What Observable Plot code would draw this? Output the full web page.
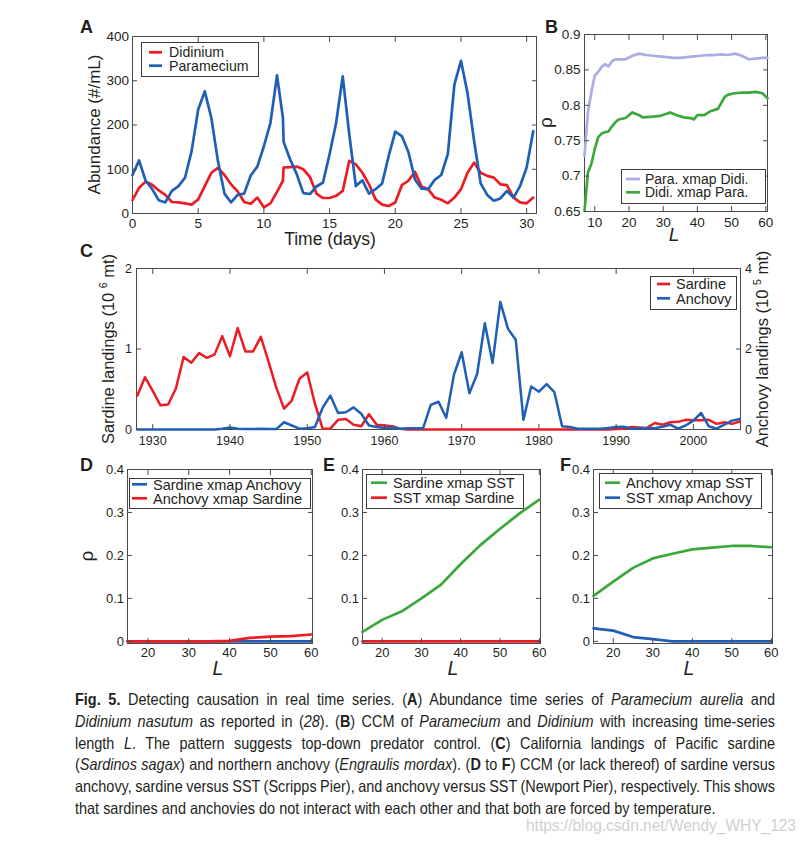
<!DOCTYPE html>
<html><head><meta charset="utf-8">
<script src="https://cdn.jsdelivr.net/npm/d3@7"></script>
<script src="https://cdn.jsdelivr.net/npm/@observablehq/plot@0.6"></script>
<style>
body{margin:0;background:#fff;}
#root{position:relative;width:808px;height:844px;overflow:hidden;background:#fff;font-family:"Liberation Sans",Arial,Helvetica,sans-serif;}
.cap{position:absolute;left:75px;white-space:nowrap;font-size:16.5px;line-height:22px;color:#231f20;transform-origin:0 50%;}
.wm{position:absolute;white-space:nowrap;font-size:16px;line-height:20px;color:#cfcfcf;transform-origin:100% 50%;}
</style></head><body><div id="root"></div>
<script>
// ---------- DATA ----------
// Panel A: time (days) and abundance (#/mL)
const aTime = [0,0.5,1,1.5,2,2.5,3,3.5,4,4.5,5,5.5,6,6.5,7,7.5,8,8.5,9,9.5,10,10.5,11,11.45,11.5,12,12.5,13,13.5,14,14.5,15,15.5,16,16.5,17,17.5,18,18.5,19,19.5,20,20.5,21,21.5,22,22.5,23,23.5,24,24.5,25,25.5,26,26.5,27,27.5,28,28.5,29,29.5,30,30.5];
const paramecium = [87,120,74,55,30,25,51,62,81,141,235,276,216,119,45,25,42,45,86,106,152,205,312,216,162,122,89,46,44,61,70,134,205,310,179,62,75,45,55,68,130,185,175,139,77,56,55,76,87,134,291,345,272,164,68,42,29,34,51,36,62,104,186];
const didinium = [30,58,72,65,52,42,26,25,23,20,32,62,92,103,87,66,50,26,22,36,14,23,49,74,104,105,106,100,83,45,35,35,40,51,119,111,92,66,32,20,17,25,64,74,94,61,55,36,31,23,36,55,92,115,92,85,81,66,64,36,25,23,36];
const aXTicks = [0,5,10,15,20,25,30];
const aYTicks = [0,100,200,300,400];
const aLegend = ["Didinium","Paramecium"];

// Panel B: CCM skill vs library length L
const bLpara = [7,8,9,10,11,12,13,14,15,16,17,19,21,23,25,27,29,31,33,35,37,39,41,43,45,47,49,51,53,55,57,59,60.5];
const paraXmapDidi = [0.729,0.790,0.818,0.842,0.847,0.854,0.858,0.855,0.862,0.865,0.865,0.865,0.870,0.873,0.871,0.870,0.869,0.868,0.867,0.867,0.868,0.869,0.870,0.871,0.871,0.872,0.871,0.873,0.870,0.865,0.866,0.867,0.867];
const bLdidi = [7,8,9,10,11,12,13,14,15,16,17,19,21,23,24,27,29,31,32,34,36,38,39,40,42,44,46,48,49,51,53,55,57,59,60.5];
const didiXmapPara = [0.651,0.705,0.717,0.738,0.755,0.760,0.762,0.763,0.770,0.776,0.780,0.782,0.790,0.786,0.783,0.784,0.785,0.788,0.790,0.786,0.783,0.782,0.780,0.786,0.786,0.792,0.795,0.812,0.815,0.817,0.818,0.818,0.819,0.817,0.810];
const bXTicks = [10,20,30,40,50,60];
const bYTicks = [0.65,0.7,0.75,0.8,0.85,0.9];
const bLegend = ["Para. xmap Didi.","Didi. xmap Para."];

// Panel C: California landings
const cYears = [1928,1929,1930,1931,1932,1933,1934,1935,1936,1937,1938,1939,1940,1941,1942,1943,1944,1945,1946,1947,1948,1949,1950,1951,1952,1953,1954,1955,1956,1957,1958,1959,1960,1961,1962,1963,1964,1965,1966,1967,1968,1969,1970,1971,1972,1973,1974,1975,1976,1977,1978,1979,1980,1981,1982,1983,1984,1985,1986,1987,1988,1989,1990,1991,1992,1993,1994,1995,1996,1997,1998,1999,2000,2001,2002,2003,2004,2005,2006];
// sardine, 10^6 mt
const sardine = [0.42,0.65,0.48,0.30,0.31,0.51,0.90,0.83,0.95,0.89,
 0.93,1.16,0.91,1.26,0.97,0.97,1.15,0.84,0.52,0.26,
 0.36,0.63,0.71,0.32,0.01,0.01,0.12,0.13,0.06,0.04,
 0.19,0.06,0.05,0.04,0.01,0,0,0,0,0,
 0,0,0,0,0,0,0,0,0,0,
 0,0,0,0,0,0,0,0,0,0,
 0,0,0.005,0.01,0.03,0.025,0.02,0.08,0.06,0.09,
 0.095,0.12,0.115,0.115,0.12,0.07,0.09,0.07,0.10];
// anchovy, 10^5 mt
const anchovy = [0,0,0,0,0,0,0,0,0,0,
 0,0.02,0.05,0.02,0.01,0.01,0.02,0.01,0.01,0.18,
 0.10,0.02,0.03,0.06,0.54,0.84,0.41,0.43,0.55,0.39,
 0.10,0.06,0.04,0.05,0.02,0.03,0.03,0.03,0.61,0.69,
 0.29,1.36,1.92,0.90,1.38,2.64,1.65,3.17,2.50,2.23,
 0.24,1.07,0.94,1.13,0.93,0.08,0.06,0.02,0.02,0.02,
 0.02,0.04,0.06,0.07,0.02,0.03,0.03,0.03,0.07,0.12,
 0.02,0.10,0.22,0.41,0.08,0.02,0.12,0.22,0.26];
const cXTicks = [1930,1940,1950,1960,1970,1980,1990,2000];
const cSardineTicks = [0,1,2];
const cAnchovyTicks = [0,2,4];
const ANCH_RATIO = 2; // right axis max (4) / left axis max (2)
const cLegend = ["Sardine","Anchovy"];

// Panels D-F
const defL = [15,20,25,30,35,40,45,50,55,60];
const dSardXmapAnch = [0,0,0,0,0,0,0,0,0,0];
const dAnchXmapSard = [0,0,0,0,0,0.001,0.008,0.011,0.012,0.016];
const eSardXmapSST = [0.022,0.050,0.070,0.100,0.132,0.180,0.224,0.262,0.298,0.330];
const eSSTXmapSard = [0,0,0,0,0,0,0,0,0,0];
const fAnchXmapSST = [0.106,0.139,0.171,0.193,0.204,0.214,0.218,0.222,0.222,0.219];
const fSSTXmapAnch = [0.030,0.025,0.010,0.005,0,0,0,0,0,0];
const defXTicks = [20,30,40,50,60];
const defYTicks = [0,0.1,0.2,0.3,0.4];
const dLegend = ["Sardine xmap Anchovy","Anchovy xmap Sardine"];
const eLegend = ["Sardine xmap SST","SST xmap Sardine"];
const fLegend = ["Anchovy xmap SST","SST xmap Anchovy"];

// ---------- STYLE ----------
const FONT = '"Liberation Sans", Arial, Helvetica, sans-serif';
const INK = "#231f20", FRAME = "#4a4a4a";
const RED = "#ec1c24", BLUE = "#1f5fb5", GREEN = "#3aa83a", LAV = "#a9ade4";
const LW = 2.7;

const root = document.getElementById("root");
const rows = (xs, ys) => xs.map((x, i) => ({x, y: ys[i]}));
const num = d => String(+(+d).toFixed(2));

function panel(o) {
  const [fl, ft, fr, fb] = o.box;
  const ml = 50, mr = 50, mt = 12, mb = 30;
  const svg = Plot.plot({
    width: (fr - fl) + ml + mr, height: (fb - ft) + mt + mb,
    marginLeft: ml, marginRight: mr, marginTop: mt, marginBottom: mb,
    x: {domain: o.xDomain}, y: {domain: o.yDomain},
    style: {fontFamily: FONT, fontSize: o.fs + "px", color: INK, background: "transparent", overflow: "visible"},
    marks: [
      Plot.frame({stroke: FRAME, strokeWidth: 1}),
      ...o.marks,
      Plot.axisX({ticks: o.xTicks, anchor: "bottom", tickSize: -5, tickPadding: 5 + o.xOff, tickFormat: o.xFmt, label: null, stroke: FRAME, fill: INK}),
      Plot.axisX({ticks: o.xTicks, anchor: "top", tickSize: -5, tickFormat: () => "", label: null, stroke: FRAME}),
      Plot.axisY({ticks: o.yTicks, anchor: "left", tickSize: -5, tickPadding: 5 + o.yOff, tickFormat: o.yFmt, label: null, stroke: FRAME, fill: INK}),
      Plot.axisY({ticks: o.yTicksR || o.yTicks, anchor: "right", tickSize: -5, tickPadding: 5 + o.yOff, tickFormat: o.yFmtR || (() => ""), label: null, stroke: FRAME, fill: INK})
    ]
  });
  svg.style.position = "absolute";
  svg.style.left = (fl - ml) + "px";
  svg.style.top = (ft - mt) + "px";
  root.appendChild(svg);
}

// A
panel({box: [132, 36, 536, 213], xDomain: [0, 30.75], yDomain: [0, 400], xTicks: aXTicks, yTicks: aYTicks,
  xFmt: d => String(d), yFmt: d => String(d), fs: 13.5, xOff: 4.5, yOff: 3.5,
  marks: [
    Plot.line(rows(aTime, didinium), {x: "x", y: "y", stroke: RED, strokeWidth: LW}),
    Plot.line(rows(aTime, paramecium), {x: "x", y: "y", stroke: BLUE, strokeWidth: LW})
  ]});
// B
panel({box: [584, 34, 767, 211], xDomain: [7, 60.5], yDomain: [0.65, 0.9], xTicks: bXTicks, yTicks: bYTicks,
  xFmt: d => String(d), yFmt: num, fs: 13.5, xOff: 5.5, yOff: 4,
  marks: [
    Plot.line(rows(bLpara, paraXmapDidi), {x: "x", y: "y", stroke: LAV, strokeWidth: LW}),
    Plot.line(rows(bLdidi, didiXmapPara), {x: "x", y: "y", stroke: GREEN, strokeWidth: LW})
  ]});
// C
panel({box: [136, 268, 740, 429], xDomain: [1927.9, 2006.1], yDomain: [0, 2], xTicks: cXTicks, yTicks: cSardineTicks,
  yTicksR: cAnchovyTicks.map(v => v / ANCH_RATIO), yFmtR: d => String(d * ANCH_RATIO),
  xFmt: d => String(d), yFmt: d => String(d), fs: 12.5, xOff: 7, yOff: 4.5,
  marks: [
    Plot.line(rows(cYears, sardine), {x: "x", y: "y", stroke: RED, strokeWidth: 2.5}),
    Plot.line(rows(cYears, anchovy), {x: "x", y: d => d.y / ANCH_RATIO, stroke: BLUE, strokeWidth: 2.5})
  ]});
// D, E, F
const defCommon = {xDomain: [15, 60.3], yDomain: [-0.005, 0.4], xTicks: defXTicks, yTicks: defYTicks,
  xFmt: d => String(d), yFmt: num, fs: 13, xOff: 4, yOff: 3.5};
panel({...defCommon, box: [127, 469, 312, 643], marks: [
  Plot.line(rows(defL, dSardXmapAnch), {x: "x", y: "y", stroke: BLUE, strokeWidth: LW}),
  Plot.line(rows(defL, dAnchXmapSard), {x: "x", y: "y", stroke: RED, strokeWidth: LW})
]});
panel({...defCommon, box: [362, 469, 540, 643], marks: [
  Plot.line(rows(defL, eSardXmapSST), {x: "x", y: "y", stroke: GREEN, strokeWidth: LW}),
  Plot.line(rows(defL, eSSTXmapSard), {x: "x", y: "y", stroke: RED, strokeWidth: LW})
]});
panel({...defCommon, box: [593, 469, 772, 643], marks: [
  Plot.line(rows(defL, fAnchXmapSST), {x: "x", y: "y", stroke: GREEN, strokeWidth: LW}),
  Plot.line(rows(defL, fSSTXmapAnch), {x: "x", y: "y", stroke: BLUE, strokeWidth: LW})
]});

// ---------- OVERLAY: titles, letters, legends ----------
const ov = d3.select(root).append("svg").attr("width", 808).attr("height", 844)
  .style("position", "absolute").style("left", 0).style("top", 0)
  .style("font-family", FONT).style("overflow", "visible");

function T(x, y, str, o = {}) {
  const t = ov.append("text").attr("x", x).attr("y", y).attr("fill", INK)
    .attr("font-size", o.size || 14).attr("text-anchor", o.anchor || "start");
  if (o.weight) t.attr("font-weight", o.weight);
  if (o.italic) t.attr("font-style", "italic");
  if (o.rot) t.attr("transform", `rotate(${o.rot},${x},${y})`);
  if (o.dy) t.attr("dy", o.dy);
  t.text(str);
  return t;
}
function legend(box, labels, colors, ys, lx, tx, size) {
  ov.append("rect").attr("x", box[0] + 0.5).attr("y", box[1] + 0.5)
    .attr("width", box[2] - box[0]).attr("height", box[3] - box[1])
    .attr("fill", "#fff").attr("stroke", "#3a3a3a").attr("stroke-width", 1);
  labels.forEach((lab, i) => {
    ov.append("line").attr("x1", lx[0]).attr("x2", lx[1]).attr("y1", ys[i]).attr("y2", ys[i])
      .attr("stroke", colors[i]).attr("stroke-width", LW);
    T(tx, ys[i], lab, {size: size || 14.5, dy: "0.36em"});
  });
}

// panel letters
[["A", 80, 33], ["B", 545, 33], ["C", 80, 257], ["D", 80, 471], ["E", 323, 471], ["F", 560, 471]]
  .forEach(([s, x, y]) => T(x, y, s, {size: 18, weight: "bold"}));

// axis titles
T(100, 124.5, "Abundance (#/mL)", {size: 17, anchor: "middle", rot: -90});
T(330, 245, "Time (days)", {size: 17.5, anchor: "middle"});
T(552, 122.5, "ρ", {size: 19, anchor: "middle", rot: -90});
T(674, 241, "L", {size: 19, anchor: "middle", italic: true});
function supLabel(x, y, pre, sup) {
  const t = ov.append("text").attr("x", x).attr("y", y).attr("fill", INK).attr("font-size", 16.5)
    .attr("text-anchor", "middle").attr("transform", `rotate(-90,${x},${y})`);
  t.append("tspan").text(pre + " (10 ");
  t.append("tspan").attr("dy", -7).attr("font-size", 10.5).text(sup);
  t.append("tspan").attr("dy", 7).text(" mt)");
}
supLabel(114, 349, "Sardine landings", "6");
supLabel(768, 349, "Anchovy landings", "5");
T(93, 556, "ρ", {size: 19, anchor: "middle", rot: -90});
T(218, 675, "L", {size: 19.5, anchor: "middle", italic: true});
T(453, 675, "L", {size: 19.5, anchor: "middle", italic: true});
T(689, 675, "L", {size: 19.5, anchor: "middle", italic: true});

// legends
legend([141, 42, 258, 76], aLegend, [RED, BLUE], [52.3, 65.7], [149, 162], 169, 14.2);
legend([621, 169, 765, 203], bLegend, [LAV, GREEN], [179, 192.3], [626, 640], 645, 14);
legend([650, 276, 736, 309], cLegend, [RED, BLUE], [284, 298.3], [657, 670], 676);
legend([129, 478, 310, 508], dLegend, [BLUE, RED], [484.3, 498.3], [132, 147], 153);
legend([366, 474, 523, 508], eLegend, [GREEN, RED], [482.7, 497.7], [371, 387], 393);
legend([599, 473, 761, 508], fLegend, [GREEN, BLUE], [482.7, 497.7], [605, 620], 626);

// ---------- CAPTION ----------
const capLines = [
  '<b>Fig. 5.</b> Detecting causation in real time series. (<b>A</b>) Abundance time series of <i>Paramecium aurelia</i> and',
  '<i>Didinium nasutum</i> as reported in (<i>28</i>). (<b>B</b>) CCM of <i>Paramecium</i> and <i>Didinium</i> with increasing time-series',
  'length <i>L</i>. The pattern suggests top-down predator control. (<b>C</b>) California landings of Pacific sardine',
  '(<i>Sardinos sagax</i>) and northern anchovy (<i>Engraulis mordax</i>). (<b>D</b> to <b>F</b>) CCM (or lack thereof) of sardine versus',
  'anchovy, sardine versus SST (Scripps Pier), and anchovy versus SST (Newport Pier), respectively. This shows',
  'that sardines and anchovies do not interact with each other and that both are forced by temperature.'
];
const capDivs = capLines.map((h, i) => {
  const d = document.createElement("div");
  d.className = "cap";
  d.style.top = (688 + i * 21.8) + "px";
  d.innerHTML = h;
  root.appendChild(d);
  return d;
});
const widths = capDivs.map(d => d.getBoundingClientRect().width);
const spacesOf = d => (d.textContent.match(/ /g) || []).length;
let s = 673 / widths[5];
capDivs.forEach((d, i) => {
  if (i < 5) s = Math.min(s, 700 / (widths[i] - 0.6 * spacesOf(d)));
});
capDivs.forEach((d, i) => {
  if (i < 5) d.style.wordSpacing = ((700 / s - widths[i]) / spacesOf(d)) + "px";
  d.style.transform = `scaleX(${s})`;
});
const wm = document.createElement("div");
wm.className = "wm";
wm.textContent = "https://blog.csdn.net/Wendy_WHY_123";
root.appendChild(wm);
const ww = wm.getBoundingClientRect().width;
wm.style.left = (796 - ww) + "px";
wm.style.top = "816px";
wm.style.transform = `scaleX(${270 / ww})`;
</script>
</body></html>
